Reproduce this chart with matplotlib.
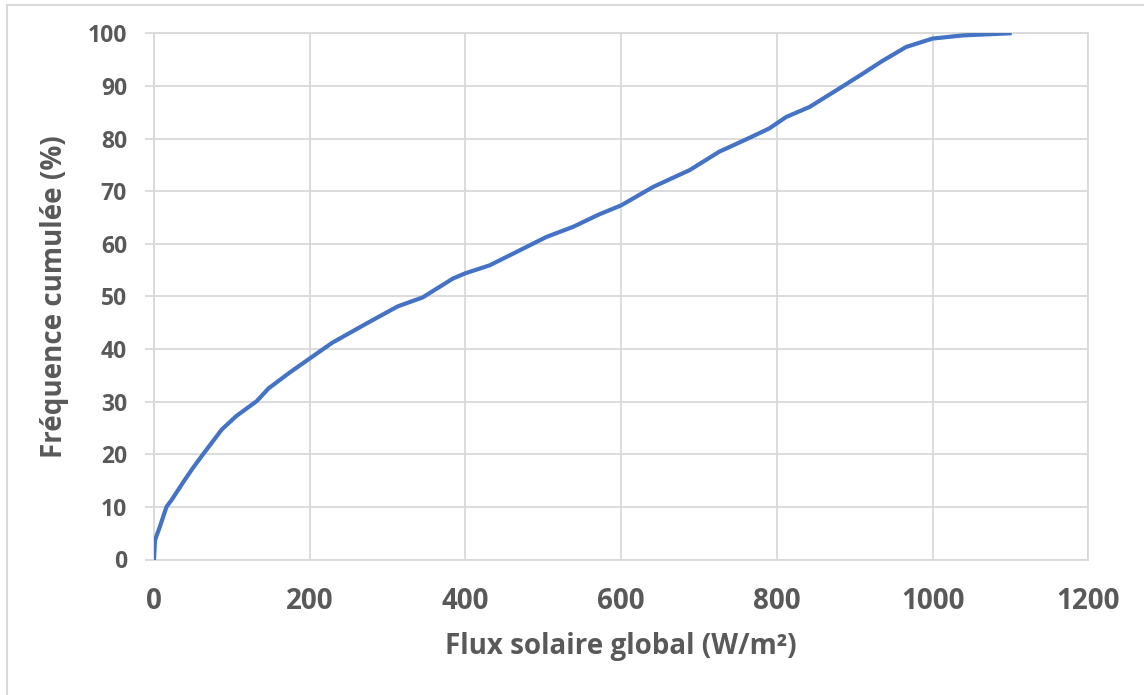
import matplotlib

matplotlib.use("Agg")
import matplotlib.pyplot as plt
from matplotlib.patches import Rectangle

# Valeurs
flux = [0, 1.3, 7.7, 16, 23, 38, 50, 63, 87, 106, 132, 147, 174, 200, 229,
        276, 313, 345, 384, 400, 431, 469, 504, 538, 572, 600, 641, 688, 726,
        760, 790, 812, 842, 880, 910, 935, 966, 1000, 1039, 1099]
freq = [0, 3.7, 6.3, 10, 11.4, 14.8, 17.4, 20, 24.7, 27.3, 30.1, 32.5, 35.5,
        38.2, 41.2, 45.1, 48.1, 49.8, 53.4, 54.4, 55.9, 58.7, 61.3, 63.2, 65.6,
        67.3, 70.8, 74.0, 77.5, 79.8, 81.9, 84.1, 86.0, 89.5, 92.3, 94.7, 97.4,
        99.0, 99.6, 100]

x_ticks = [0, 200, 400, 600, 800, 1000, 1200]
y_ticks = [0, 10, 20, 30, 40, 50, 60, 70, 80, 90, 100]

TEXT_COLOR = "#595959"
GRID_COLOR = "#D9D9D9"
LINE_COLOR = "#4472C4"
FONT = ["Open Sans", "DejaVu Sans"]


def main():
    plt.rcParams["font.family"] = FONT

    fig = plt.figure(figsize=(11.44, 6.95), dpi=100)
    ax = fig.add_axes([154 / 1144, 1 - 559.5 / 695,
                       (1088.3 - 154) / 1144, (559.5 - 33.3) / 695])

    # cadre extérieur (seuls les bords haut et gauche sont visibles)
    fig.patches.append(Rectangle((7 / 1144, -0.1), 1.2, 1 - 5 / 695 + 0.1,
                                 transform=fig.transFigure, fill=False,
                                 edgecolor=GRID_COLOR, linewidth=1.5))

    ax.plot(flux, freq, color=LINE_COLOR, linewidth=3.0,
            solid_joinstyle="round", zorder=3)

    ax.set_xlim(0, 1200)
    ax.set_ylim(0, 100)
    ax.set_xticks(x_ticks)
    ax.set_yticks(y_ticks)
    ax.grid(True, color=GRID_COLOR, linewidth=1.3)
    ax.set_axisbelow(True)
    for side in ["top", "right", "bottom", "left"]:
        ax.spines[side].set_color(GRID_COLOR)
        ax.spines[side].set_linewidth(1.3)

    ax.tick_params(axis="y", length=6.5, width=1.3, color=GRID_COLOR,
                   pad=13, labelsize=16.5, labelcolor=TEXT_COLOR)
    ax.tick_params(axis="x", length=0, pad=20, labelsize=20,
                   labelcolor=TEXT_COLOR)
    for label in ax.get_xticklabels() + ax.get_yticklabels():
        label.set_fontweight("bold")

    ax.set_xlabel("Flux solaire global (W/m²)", fontsize=20,
                  fontweight="bold", color=TEXT_COLOR, labelpad=11)
    ax.set_ylabel("Fréquence cumulée (%)", fontsize=20,
                  fontweight="bold", color=TEXT_COLOR, labelpad=13)

    fig.savefig("out.png", dpi=100)
    plt.close(fig)


if __name__ == "__main__":
    main()
